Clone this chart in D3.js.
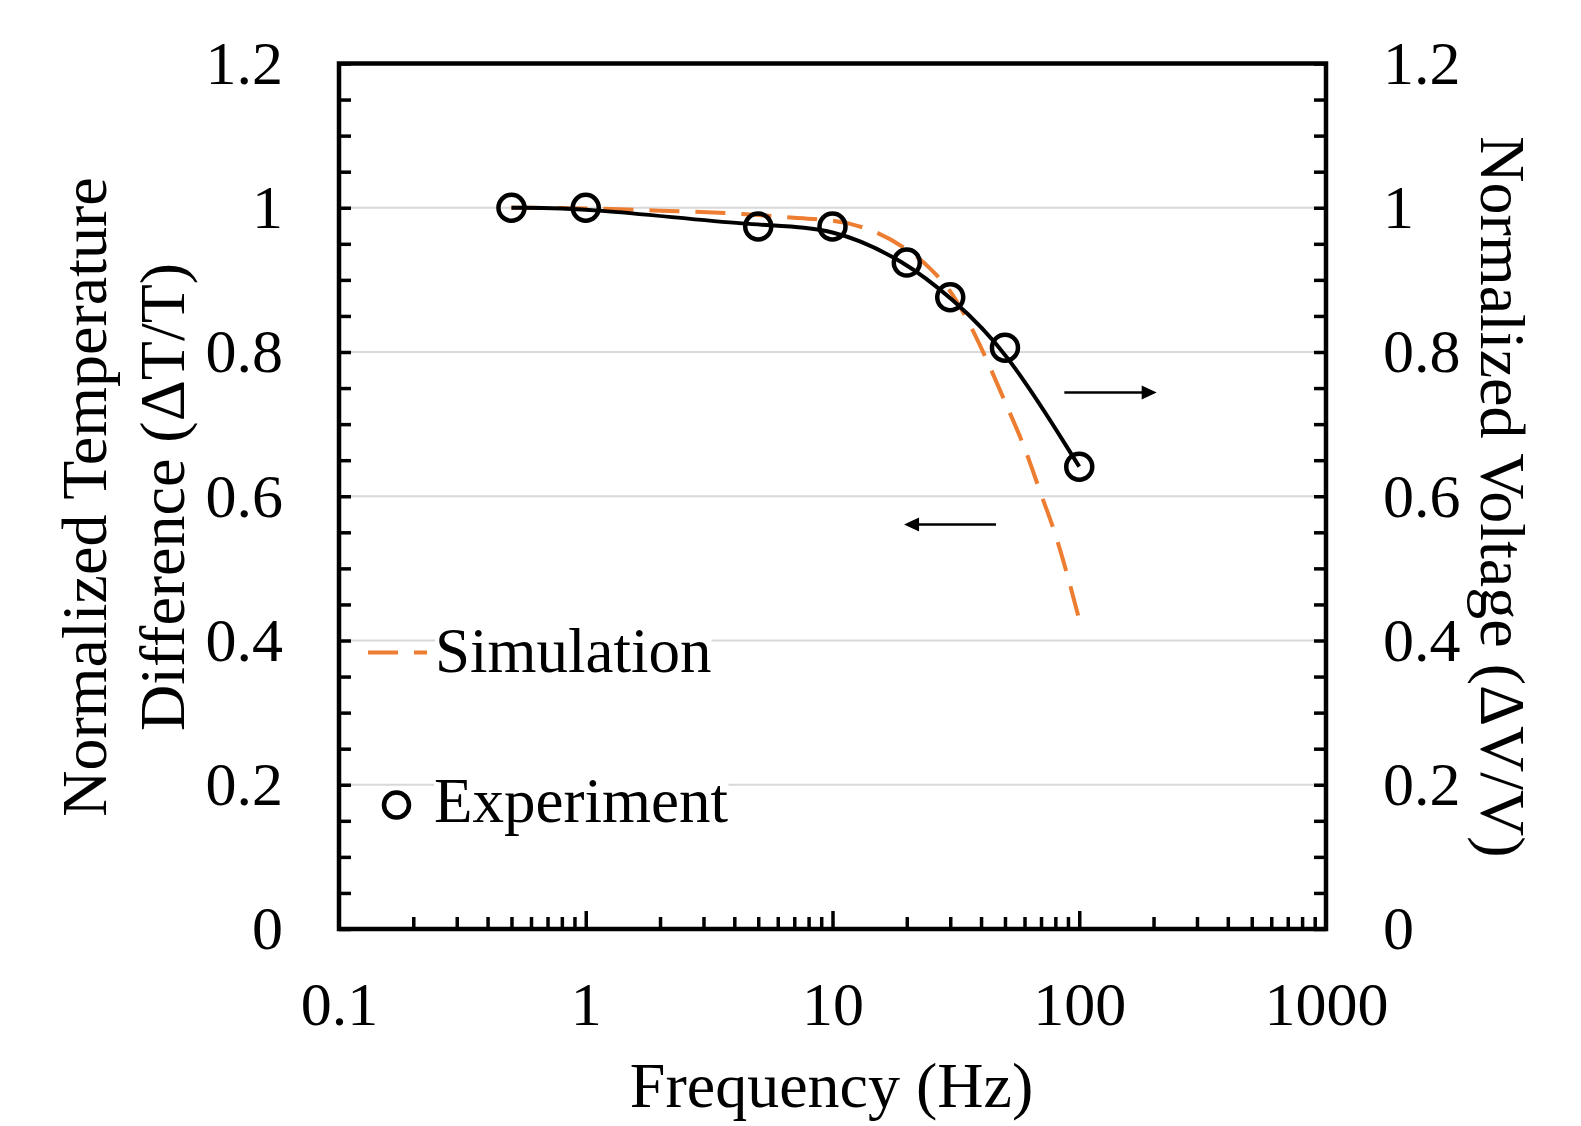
<!DOCTYPE html>
<html>
<head>
<meta charset="utf-8">
<script src="https://cdn.jsdelivr.net/npm/d3@7"></script>
<style>
  html, body { margin: 0; padding: 0; background: #fff; }
  svg { display: block; }
  text { font-family: "Liberation Serif", "Times New Roman", serif; fill: #000; }
</style>
</head>
<body>
<script>
// ---------------- data ----------------
const freqExp = [0.5, 1, 5, 10, 20, 30, 50, 100];
const tempExp = [1.0, 1.0, 0.974, 0.974, 0.924, 0.876, 0.806, 0.641];

const freqSim = [0.5, 1, 2, 5, 7, 10, 12, 15, 20, 25, 30, 35, 40, 50, 60, 70, 80, 100];
const tempSim = [1.0, 0.999, 0.996, 0.99, 0.986, 0.982, 0.977, 0.966, 0.942, 0.915, 0.884, 0.846, 0.806, 0.731, 0.667, 0.603, 0.547, 0.429];

const xTickLabels = [0.1, 1, 10, 100, 1000];
const yTickLabels = [0, 0.2, 0.4, 0.6, 0.8, 1, 1.2];
const gridValues = [0.2, 0.4, 0.6, 0.8, 1];

// arrows: [fromFreq, toFreq, level]
const arrowRight = [87, 206, 0.744];
const arrowLeft = [46, 19.5, 0.561];

// ---------------- layout ----------------
const width = 1581, height = 1126;
const margin = {left: 339, right: 255, top: 63.5, bottom: 197};
const tickFont = 62;
const titleFont = 64;
const orange = "#ED7D31";

const svg = d3.select("body").append("svg")
  .attr("width", width)
  .attr("height", height);

const x = d3.scaleLog().domain([0.1, 1000]).range([margin.left, width - margin.right]);
const y = d3.scaleLinear().domain([0, 1.2]).range([height - margin.bottom, margin.top]);

const x0 = x.range()[0], x1 = x.range()[1];
const y0 = y.range()[0], y1 = y.range()[1];

// ---------------- gridlines ----------------
svg.append("g").selectAll("line")
  .data(gridValues).enter()
  .append("line")
  .attr("x1", x0).attr("x2", x1)
  .attr("y1", d => y(d)).attr("y2", d => y(d))
  .attr("stroke", "#d9d9d9")
  .attr("stroke-width", 2);

// ---------------- ticks ----------------
function styleTicks(g) {
  g.select(".domain").remove();
  g.selectAll("line").attr("stroke", "#000").attr("stroke-width", 3.5);
}

const yMinor = d3.range(0, 25).map(i => i * 0.05);
svg.append("g")
  .attr("transform", `translate(${x0},0)`)
  .call(d3.axisLeft(y).tickValues(yMinor).tickSize(-12).tickFormat(""))
  .call(styleTicks);
svg.append("g")
  .attr("transform", `translate(${x1},0)`)
  .call(d3.axisRight(y).tickValues(yMinor).tickSize(-12).tickFormat(""))
  .call(styleTicks);

const xMinor = [];
[0.1, 1, 10, 100].forEach(dec => { for (let k = 2; k <= 9; k++) xMinor.push(dec * k); });
svg.append("g")
  .attr("transform", `translate(0,${y0})`)
  .call(d3.axisBottom(x).tickValues(xMinor).tickSize(-12).tickFormat(""))
  .call(styleTicks);
svg.append("g")
  .attr("transform", `translate(0,${y0})`)
  .call(d3.axisBottom(x).tickValues([1, 10, 100]).tickSize(-18).tickFormat(""))
  .call(styleTicks);

// ---------------- tick labels ----------------
const yFmt = d => d3.format("~g")(d);

const yLeft = svg.append("g")
  .attr("transform", `translate(${x0},0)`)
  .call(d3.axisLeft(y).tickValues(yTickLabels).tickSize(0).tickPadding(56).tickFormat(yFmt));
yLeft.select(".domain").remove();

const yRight = svg.append("g")
  .attr("transform", `translate(${x1},0)`)
  .call(d3.axisRight(y).tickValues(yTickLabels).tickSize(0).tickPadding(57).tickFormat(yFmt));
yRight.select(".domain").remove();

const xAxis = svg.append("g")
  .attr("transform", `translate(0,${y0})`)
  .call(d3.axisBottom(x).tickValues(xTickLabels).tickSize(0).tickFormat(d3.format("~g")));
xAxis.select(".domain").remove();
xAxis.selectAll("text").attr("y", 96).attr("dy", 0);

svg.selectAll(".tick text")
  .attr("font-family", "Liberation Serif, Times New Roman, serif")
  .attr("font-size", tickFont)
  .attr("fill", "#000");

// ---------------- frame ----------------
svg.append("rect")
  .attr("x", x0).attr("y", y1)
  .attr("width", x1 - x0).attr("height", y0 - y1)
  .attr("fill", "none")
  .attr("stroke", "#000")
  .attr("stroke-width", 4.5);

// ---------------- series ----------------
const simData = freqSim.map((f, i) => [f, tempSim[i]]);
const expData = freqExp.map((f, i) => [f, tempExp[i]]);

svg.append("path")
  .datum(simData)
  .attr("fill", "none")
  .attr("stroke", orange)
  .attr("stroke-width", 4)
  .attr("stroke-dasharray", "30,16")
  .attr("d", d3.line().x(d => x(d[0])).y(d => y(d[1])).curve(d3.curveMonotoneX));

// smoothed line through the measured points
svg.append("path")
  .datum(expData)
  .attr("fill", "none")
  .attr("stroke", "#000")
  .attr("stroke-width", 4)
  .attr("d", d3.line().x(d => x(d[0])).y(d => y(d[1])).curve(d3.curveBasis));

svg.append("g").selectAll("circle")
  .data(expData).enter()
  .append("circle")
  .attr("cx", d => x(d[0]))
  .attr("cy", d => y(d[1]))
  .attr("r", 13)
  .attr("fill", "none")
  .attr("stroke", "#000")
  .attr("stroke-width", 4.5);

// ---------------- arrows ----------------
function arrow(a) {
  const xa = x(a[0]), xb = x(a[1]), ya = y(a[2]);
  const dir = Math.sign(xb - xa);
  svg.append("line")
    .attr("x1", xa).attr("x2", xb - dir * 12)
    .attr("y1", ya).attr("y2", ya)
    .attr("stroke", "#000").attr("stroke-width", 2.5);
  svg.append("path")
    .attr("d", `M${xb},${ya} L${xb - dir * 15},${ya - 7} L${xb - dir * 15},${ya + 7} Z`)
    .attr("fill", "#000");
}
arrow(arrowRight);
arrow(arrowLeft);

// ---------------- legend ----------------
const legend = svg.append("g");
function legendText(label, tx, ty) {
  const t = legend.append("text")
    .attr("x", tx).attr("y", ty)
    .attr("font-size", 63)
    .text(label);
  const b = t.node().getBBox();
  legend.insert("rect", "text")
    .attr("x", b.x).attr("y", b.y + 8)
    .attr("width", b.width).attr("height", b.height - 16)
    .attr("fill", "#fff");
}
legend.append("line")
  .attr("x1", 368).attr("x2", 427)
  .attr("y1", 652.5).attr("y2", 652.5)
  .attr("stroke", orange).attr("stroke-width", 4)
  .attr("stroke-dasharray", "30,16");
legendText("Simulation", 435, 672);
legend.append("circle")
  .attr("cx", 396.5).attr("cy", 805).attr("r", 12.5)
  .attr("fill", "none").attr("stroke", "#000").attr("stroke-width", 4.5);
legendText("Experiment", 434, 822);

// ---------------- axis titles ----------------
svg.append("text")
  .attr("x", (x0 + x1) / 2 - 1).attr("y", 1107)
  .attr("text-anchor", "middle")
  .attr("font-size", titleFont)
  .text("Frequency (Hz)");

svg.append("text")
  .attr("transform", `translate(106,497) rotate(-90)`)
  .attr("text-anchor", "middle")
  .attr("font-size", titleFont)
  .text("Normalized Temperature");
svg.append("text")
  .attr("transform", `translate(184,497) rotate(-90)`)
  .attr("text-anchor", "middle")
  .attr("font-size", titleFont)
  .text("Difference (ΔT/T)");

svg.append("text")
  .attr("transform", `translate(1481,497) rotate(90)`)
  .attr("text-anchor", "middle")
  .attr("font-size", titleFont)
  .text("Normalized Voltage (ΔV/V)");
</script>
</body>
</html>
